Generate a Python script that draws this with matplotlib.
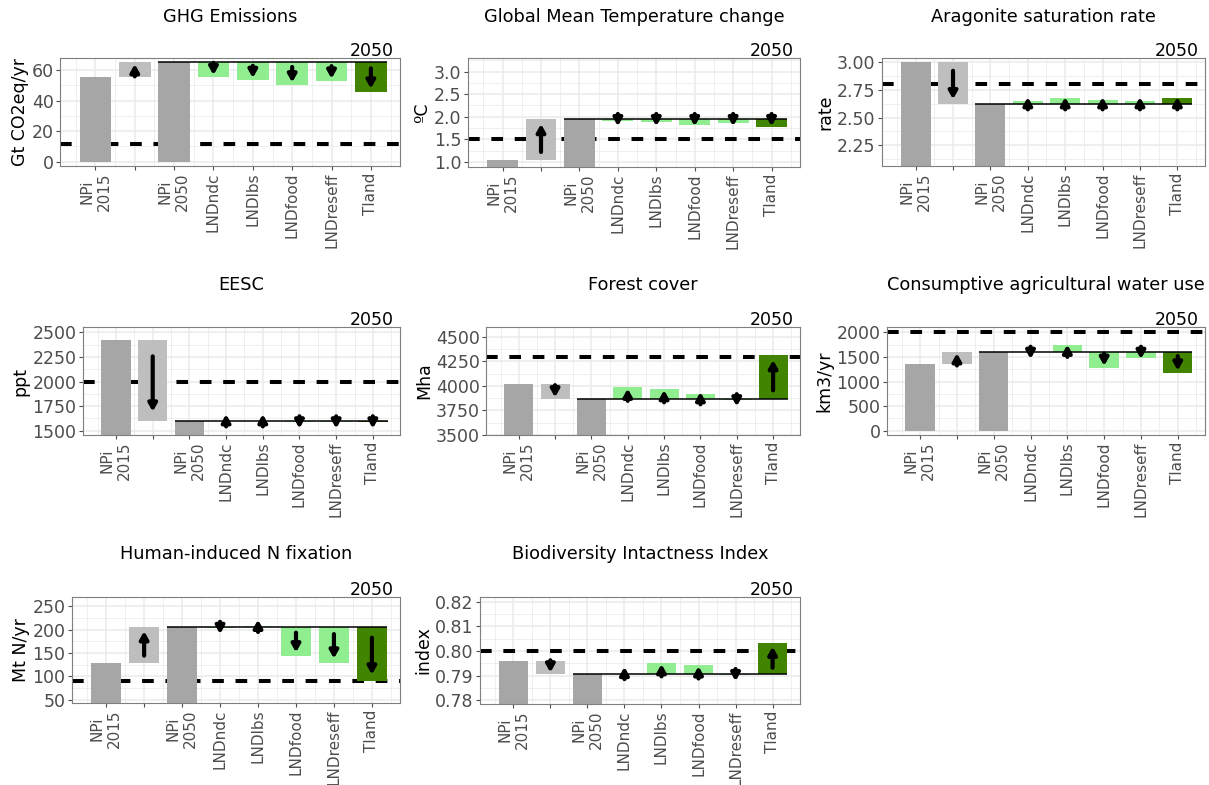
import matplotlib
matplotlib.use("Agg")
import numpy as np
import matplotlib.pyplot as plt
from matplotlib.patches import FancyArrowPatch, ArrowStyle
from matplotlib.ticker import FixedLocator, MultipleLocator

# ---- data -------------------------------------------------------------
categories = ["NPi\n2015", "", "NPi\n2050", "LNDndc", "LNDlbs", "LNDfood", "LNDreseff", "Tland"]
scenarios = ["LNDndc", "LNDlbs", "LNDfood", "LNDreseff", "Tland"]

titles = ["GHG Emissions", "Global Mean Temperature change", "Aragonite saturation rate",
          "EESC", "Forest cover", "Consumptive agricultural water use",
          "Human-induced N fixation", "Biodiversity Intactness Index"]
units = ["Gt CO2eq/yr", "ºC", "rate", "ppt", "Mha", "km3/yr", "Mt N/yr", "index"]

npi_2015 = [55.6, 1.04, 3.00, 2422, 4022, 1361, 129, 0.7960]
npi_2050 = [65.0, 1.95, 2.62, 1595, 3865, 1605, 206, 0.7906]
targets = [11.2, 1.5, 2.80, 2000, 4300, 2000, 90, 0.800]

ghg_scen = [55.6, 53.4, 50.1, 52.9, 45.5]
temp_scen = [1.91, 1.88, 1.82, 1.87, 1.77]
arag_scen = [2.65, 2.675, 2.66, 2.65, 2.68]
eesc_scen = [1597, 1597, 1593, 1593, 1593]
forest_scen = [3988, 3971, 3917, 3860, 4319]
water_scen = [1595, 1743, 1280, 1470, 1171]
nfix_scen = [204, 207, 144, 129, 90]
bii_scen = [0.7908, 0.7952, 0.7942, 0.7903, 0.8033]
scenario_values = [ghg_scen, temp_scen, arag_scen, eesc_scen,
                   forest_scen, water_scen, nfix_scen, bii_scen]

ghg_ticks = ["0", "20", "40", "60"]
temp_ticks = ["1.0", "1.5", "2.0", "2.5", "3.0"]
arag_ticks = ["2.25", "2.50", "2.75", "3.00"]
eesc_ticks = ["1500", "1750", "2000", "2250", "2500"]
forest_ticks = ["3500", "3750", "4000", "4250", "4500"]
water_ticks = ["0", "500", "1000", "1500", "2000"]
nfix_ticks = ["50", "100", "150", "200", "250"]
bii_ticks = ["0.78", "0.79", "0.80", "0.81", "0.82"]
ytick_labels = [ghg_ticks, temp_ticks, arag_ticks, eesc_ticks,
                forest_ticks, water_ticks, nfix_ticks, bii_ticks]

year_label = "2050"

# ---- layout (pixels: left, top, right, bottom) --------------------------
W, H = 1209, 785
panel_px = [(60, 58, 400, 166), (468, 58, 800, 167), (882, 58, 1205, 166),
            (83, 327, 400, 435), (486, 327, 800, 435), (887, 327, 1205, 435),
            (72, 597, 400, 703), (480, 597, 800, 704)]
title_base_px = [22, 22, 22, 290, 290, 290, 559, 559]
ylims = [(-2.9, 67.9), (0.89, 3.30), (2.06, 3.04), (1456, 2555),
         (3500, 4602), (-88, 2110), (43, 270), (0.7784, 0.822)]
xlim = (0.1, 8.74)

GREY_BAR = "#A6A6A6"
GREY_DELTA = "#BEBEBE"
LIGHT_GREEN = "#90EE90"
DARK_GREEN = "#418400"
GRID = "#EBEBEB"

fig = plt.figure(figsize=(W / 100, H / 100), dpi=100)
fig.patch.set_facecolor("white")

# arrow geometry (head sizes in pixels, converted to points for matplotlib)
PT = 72 / fig.dpi
LW_PT = 3.0
LW_PX = LW_PT / PT
HL_PX, HW_PX = 6.0, 3.4
SIN_T = HW_PX / np.hypot(HL_PX, HW_PX)
PAD_PX = 0.5 * LW_PX / SIN_T          # tip pulled back so the mitred stroke ends at the tip
NUB_PX = 2.0                          # short shaft stub behind a head-only arrow
MARK_PX = PAD_PX + HL_PX + NUB_PX + LW_PX / 2
arrow_style = ArrowStyle("-|>", head_length=HL_PX * PT, head_width=HW_PX * PT)


def draw_arrow(ax, x, y0, y1):
    """Arrow inside a change bar, pointing from y0 towards y1."""
    fwd = ax.transData
    inv = fwd.inverted()
    pb = fwd.transform((x, y0))[1]
    pe = fwd.transform((x, y1))[1]
    span = pe - pb
    s = 1.0 if span > 0 else -1.0
    tip = pb + s * max(0.88 * abs(span), MARK_PX / 2)
    tail = pb + 0.2 * span
    if s * (tip - tail) < PAD_PX + HL_PX + NUB_PX:
        tail = tip - s * (PAD_PX + HL_PX + NUB_PX)
    ya = inv.transform((0, tail))[1]
    yb = inv.transform((0, tip))[1]
    a = FancyArrowPatch((x, ya), (x, yb),
                        arrowstyle=arrow_style, mutation_scale=1,
                        lw=LW_PT, color="black", shrinkA=0, shrinkB=0,
                        capstyle="round", zorder=5)
    ax.add_patch(a)


xpos = np.arange(1, len(categories) + 1)
width = 0.8

for i in range(8):
    l, t, r, b = panel_px[i]
    ax = fig.add_axes([l / W, 1 - b / H, (r - l) / W, (b - t) / H])
    ax.set_xlim(*xlim)
    ax.set_ylim(*ylims[i])

    start, end, target = npi_2015[i], npi_2050[i], targets[i]
    scen = scenario_values[i]

    # target level
    ax.axhline(target, color="black", lw=2.9, dashes=(2.9, 2.9), zorder=1.5)

    # reference bars and the 2015 -> 2050 change
    ax.bar(1, start, width=width, color=GREY_BAR, zorder=2)
    ax.bar(2, abs(end - start), bottom=min(start, end), width=width,
           color=GREY_DELTA, zorder=2)
    ax.bar(3, end, width=width, color=GREY_BAR, zorder=2)

    # scenario changes relative to NPi 2050
    for k, v in enumerate(scen):
        col = DARK_GREEN if scenarios[k] == "Tland" else LIGHT_GREEN
        ax.bar(4 + k, abs(v - end), bottom=min(v, end), width=width,
               color=col, zorder=2)

    ax.plot([3 - width / 2, 8 + width / 2], [end, end], color="black",
            lw=1.1, zorder=3, solid_capstyle="butt")

    draw_arrow(ax, 2, start, end)
    for k, v in enumerate(scen):
        draw_arrow(ax, 4 + k, end, v)

    # axes styling
    yt = [float(s) for s in ytick_labels[i]]
    ax.set_yticks(yt)
    ax.set_yticklabels(ytick_labels[i])
    step = yt[1] - yt[0]
    ax.yaxis.set_minor_locator(MultipleLocator(step / 2))
    ax.set_xticks(xpos)
    ax.set_xticklabels(categories, rotation=90, fontsize=11)
    ax.xaxis.set_minor_locator(FixedLocator(np.arange(0.5, 9.0, 1.0)))

    ax.grid(which="major", color=GRID, lw=1.1)
    ax.grid(which="minor", color=GRID, lw=0.55)
    ax.set_axisbelow(True)
    for sp in ax.spines.values():
        sp.set_color("#7f7f7f")
        sp.set_linewidth(0.8)
    ax.tick_params(which="major", length=2.6, width=0.8, color="#4d4d4d",
                   labelcolor="#4d4d4d", pad=2)
    ax.tick_params(axis="y", labelsize=12.5)
    ax.tick_params(which="minor", length=0)

    ax.set_ylabel(units[i], fontsize=12.5, labelpad=2, color="black")

    ax.text(1 - 6 / (r - l), 1 + 2 / (b - t), year_label, transform=ax.transAxes,
            ha="right", va="baseline", fontsize=12.5, color="black")

    fig.text((l + r) / 2 / W, 1 - title_base_px[i] / H, titles[i],
             ha="center", va="baseline", fontsize=12.8, color="black")

fig.savefig("out.png", dpi=100, facecolor="white")
